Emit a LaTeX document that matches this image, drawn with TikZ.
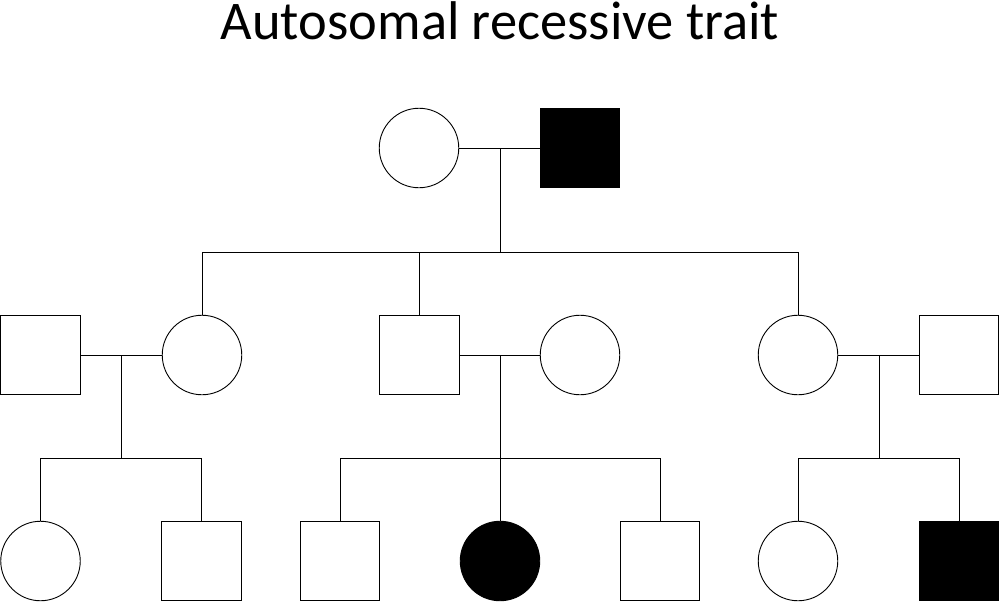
\documentclass[tikz,border=0pt]{standalone}
\usepackage{fontspec}
\setmainfont{Carlito}
\begin{document}
\begin{tikzpicture}[x=1pt,y=-1pt,
  lw/.style={line width=0.9pt},
  fem/.style={circle,draw,lw,minimum size=79.5pt,inner sep=0pt,fill=white},
  mal/.style={rectangle,draw,lw,minimum size=79.5pt,inner sep=0pt,fill=white},
  aff/.style={fill=black},
  link/.style={lw}]
\useasboundingbox (0,0) rectangle (1000,603);
\node[anchor=base,inner sep=0pt,text height=35pt,text depth=0pt] (title) at (500,39) {\fontsize{54.5pt}{65pt}\selectfont Autosomal recessive trait};
% generation I
\node[fem] (I1) at (419,148) {};
\node[mal,aff] (I2) at (580,148) {};
% generation II
\node[mal] (II1) at (40.5,355) {};
\node[fem] (II2) at (202,355) {};
\node[mal] (II3) at (419.5,355) {};
\node[fem] (II4) at (580,355) {};
\node[fem] (II5) at (798,355) {};
\node[mal] (II6) at (959,355) {};
% generation III
\node[fem] (III1) at (40.5,561) {};
\node[mal] (III2) at (201.5,561) {};
\node[mal] (III3) at (340,561) {};
\node[fem,aff] (III4) at (500,561) {};
\node[mal] (III5) at (660,561) {};
\node[fem] (III6) at (798,561) {};
\node[mal,aff] (III7) at (959,561) {};
% coordinates
\coordinate (m1) at (500,148);
\coordinate (s1) at (500,252);
\coordinate (s1l) at (202,252);
\coordinate (s1m) at (419.5,252);
\coordinate (s1r) at (798,252);
\coordinate (m2) at (121,355);
\coordinate (s2) at (121,458);
\coordinate (s2l) at (40.5,458);
\coordinate (s2r) at (201.5,458);
\coordinate (m3) at (500,355);
\coordinate (s3) at (500,458);
\coordinate (s3l) at (340,458);
\coordinate (s3r) at (660,458);
\coordinate (m4) at (879,355);
\coordinate (s4) at (879,458);
\coordinate (s4l) at (798,458);
\coordinate (s4r) at (959,458);
% gen I family
\draw[link] (I1.east) -- (I2.west);
\draw[link] (m1) -- (s1);
\draw[link] (s1l) -- (s1r);
\draw[link] (s1l) -- (II2.north);
\draw[link] (s1m) -- (II3.north);
\draw[link] (s1r) -- (II5.north);
% left family
\draw[link] (II1.east) -- (II2.west);
\draw[link] (m2) -- (s2);
\draw[link] (s2l) -- (s2r);
\draw[link] (s2l) -- (III1.north);
\draw[link] (s2r) -- (III2.north);
% middle family
\draw[link] (II3.east) -- (II4.west);
\draw[link] (m3) -- (III4.north);
\draw[link] (s3l) -- (s3r);
\draw[link] (s3l) -- (III3.north);
\draw[link] (s3r) -- (III5.north);
% right family
\draw[link] (II5.east) -- (II6.west);
\draw[link] (m4) -- (s4);
\draw[link] (s4l) -- (s4r);
\draw[link] (s4l) -- (III6.north);
\draw[link] (s4r) -- (III7.north);
\end{tikzpicture}
\end{document}
